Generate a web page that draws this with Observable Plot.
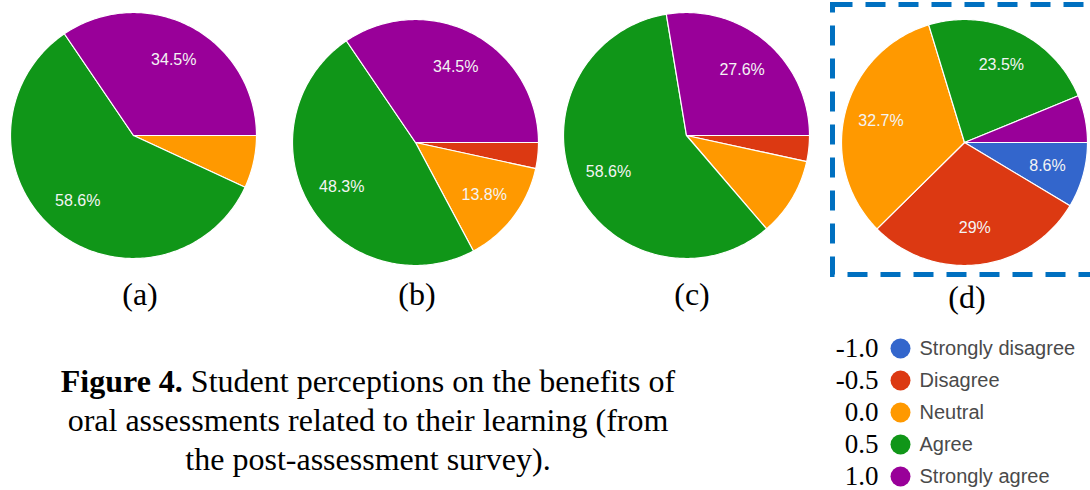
<!DOCTYPE html>
<html>
<head>
<meta charset="utf-8">
<script src="https://cdn.jsdelivr.net/npm/d3@7"></script>
<script src="https://cdn.jsdelivr.net/npm/@observablehq/plot@0.6"></script>
<style>
  html, body { margin: 0; padding: 0; background: #fff; }
  #root { position: relative; width: 1090px; height: 490px; overflow: hidden; background: #fff; }
  .pie { position: absolute; }
  .pie svg { overflow: visible; }
  .sub { position: absolute; font-family: "Liberation Serif", "Times New Roman", serif; font-size: 32px; line-height: 1; color: #000; transform: translate(-50%, -50%); white-space: nowrap; }
  #caption { position: absolute; left: 18px; width: 700px; top: 362px; text-align: center; font-family: "Liberation Serif", "Times New Roman", serif; font-size: 32px; line-height: 39px; color: #000; }
  #legend { position: absolute; left: 822px; top: 330px; }
  #box { position: absolute; left: 0; top: 0; }
</style>
</head>
<body>
<div id="root"></div>
<script>
// ---- data ----
const categories = ["Strongly disagree", "Disagree", "Neutral", "Agree", "Strongly agree"];
const scaleValues = ["-1.0", "-0.5", "0.0", "0.5", "1.0"];
const palette = ["#3366cc", "#dc3912", "#ff9900", "#109618", "#990099"];
const panelNames = ["(a)", "(b)", "(c)", "(d)"];

const valuesA = [0, 0, 6.9, 58.6, 34.5];
const valuesB = [0, 3.4, 13.8, 48.3, 34.5];
const valuesC = [0, 3.4, 10.3, 58.6, 27.6];
const valuesD = [8.6, 29, 32.7, 23.5, 6.2];

const labelsA = ["", "", "", "58.6%", "34.5%"];
const labelsB = ["", "", "13.8%", "48.3%", "34.5%"];
const labelsC = ["", "", "", "58.6%", "27.6%"];
const labelsD = ["8.6%", "29%", "32.7%", "23.5%", ""];

const captionBold = "Figure 4.";
const captionLines = [
  " Student perceptions on the benefits of",
  "oral assessments related to their learning (from",
  "the post-assessment survey)."
];

// ---- layout ----
const root = document.getElementById("root");
const piePos = [[8, 10], [290, 17], [561, 10], [839, 17]];
const subPos = [[140, 294], [417, 294], [692, 294], [967, 297]];

// dashed frame around (d)
const ns = "http://www.w3.org/2000/svg";
const boxSvg = document.createElementNS(ns, "svg");
boxSvg.setAttribute("id", "box");
boxSvg.setAttribute("width", 1090);
boxSvg.setAttribute("height", 490);
const rect = document.createElementNS(ns, "rect");
rect.setAttribute("x", 832.5); rect.setAttribute("y", 4.5);
rect.setAttribute("width", 262); rect.setAttribute("height", 270);
rect.setAttribute("fill", "none");
rect.setAttribute("stroke", "#0070c0");
rect.setAttribute("stroke-width", 5);
rect.setAttribute("stroke-dasharray", "20 13");
boxSvg.appendChild(rect);
root.appendChild(boxSvg);

function piePlot(values, labels) {
  const arcs = d3.pie().sort(null)
    .startAngle(Math.PI / 2).endAngle(Math.PI / 2 + 2 * Math.PI)(values);
  const outline = [];
  const labelRows = [];
  arcs.forEach((a, i) => {
    const span = a.endAngle - a.startAngle;
    if (span <= 0) return;
    const cat = categories[i];
    outline.push({cat, x: 0, y: 0});
    const n = Math.max(2, Math.ceil(span / (Math.PI / 180)));
    for (let k = 0; k <= n; k++) {
      const t = a.startAngle + span * k / n;
      outline.push({cat, x: Math.sin(t), y: Math.cos(t)});
    }
    outline.push({cat, x: 0, y: 0});
    if (labels[i]) {
      const m = (a.startAngle + a.endAngle) / 2;
      labelRows.push({cat, text: labels[i], x: 0.7 * Math.sin(m), y: 0.7 * Math.cos(m)});
    }
  });
  return Plot.plot({
    width: 250, height: 250, margin: 2,
    x: {domain: [-1, 1], axis: null},
    y: {domain: [-1, 1], axis: null},
    color: {domain: categories, range: palette},
    style: {background: "transparent"},
    marks: [
      Plot.line(outline, {x: "x", y: "y", z: "cat", fill: "cat", stroke: "white", strokeWidth: 1.2, strokeLinejoin: "round"}),
      Plot.text(labelRows, {x: "x", y: "y", text: "text", fill: "#f4f4f4", fontSize: 16,
        fontFamily: "Liberation Sans, Arial, sans-serif"})
    ]
  });
}

[[valuesA, labelsA], [valuesB, labelsB], [valuesC, labelsC], [valuesD, labelsD]].forEach(([v, l], i) => {
  const wrap = document.createElement("div");
  wrap.className = "pie";
  wrap.style.left = piePos[i][0] + "px";
  wrap.style.top = piePos[i][1] + "px";
  wrap.appendChild(piePlot(v, l));
  root.appendChild(wrap);
  const s = document.createElement("div");
  s.className = "sub";
  s.style.left = subPos[i][0] + "px";
  s.style.top = subPos[i][1] + "px";
  s.textContent = panelNames[i];
  root.appendChild(s);
});

// caption
const cap = document.createElement("div");
cap.id = "caption";
const b = document.createElement("b");
b.textContent = captionBold;
cap.appendChild(b);
cap.appendChild(document.createTextNode(captionLines[0]));
for (let i = 1; i < captionLines.length; i++) {
  cap.appendChild(document.createElement("br"));
  cap.appendChild(document.createTextNode(captionLines[i]));
}
root.appendChild(cap);

// legend
const legend = Plot.plot({
  width: 268, height: 160,
  marginTop: 18, marginBottom: 14, marginLeft: 0, marginRight: 0,
  y: {type: "point", domain: categories, padding: 0, axis: null},
  color: {domain: categories, range: palette},
  style: {background: "transparent"},
  marks: [
    Plot.text(categories, {y: d => d, text: (d, i) => scaleValues[i], frameAnchor: "left", dx: 56,
      textAnchor: "end", fontSize: 27, fill: "#000", fontFamily: "Liberation Serif, Times New Roman, serif"}),
    Plot.dot(categories, {y: d => d, fill: d => d, r: 10, frameAnchor: "left", dx: 78}),
    Plot.text(categories, {y: d => d, text: d => d, frameAnchor: "left", dx: 97, textAnchor: "start",
      fontSize: 20, fill: "#4a4a4a", fontFamily: "Liberation Sans, Arial, sans-serif"})
  ]
});
const lg = document.createElement("div");
lg.id = "legend";
lg.appendChild(legend);
root.appendChild(lg);
</script>
</body>
</html>
